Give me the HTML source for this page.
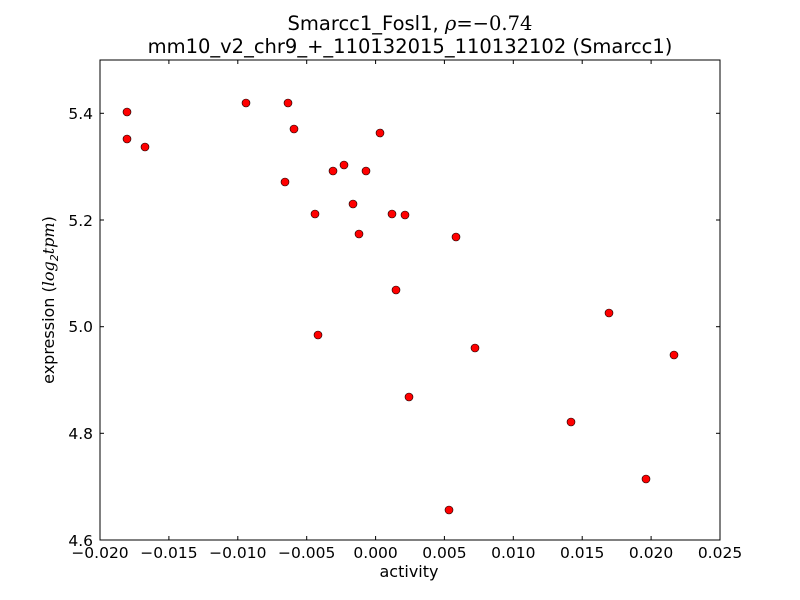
<!DOCTYPE html>
<html><head><meta charset="utf-8"><style>body{margin:0;background:#fff}svg{display:block}</style></head>
<body>
<svg width="800" height="600" xmlns="http://www.w3.org/2000/svg" font-family="'DejaVu Sans','Liberation Sans',sans-serif">
<rect width="800" height="600" fill="#fff"/>
<g fill="#ff0000" stroke="#000" stroke-width="0.6">
<circle cx="127" cy="112" r="4"/><circle cx="127" cy="139" r="4"/><circle cx="145" cy="147" r="4"/>
<circle cx="246" cy="103" r="4"/><circle cx="288" cy="103" r="4"/><circle cx="294" cy="129" r="4"/>
<circle cx="285" cy="182" r="4"/><circle cx="315" cy="214" r="4"/><circle cx="333" cy="171" r="4"/>
<circle cx="344" cy="165" r="4"/><circle cx="366" cy="171" r="4"/><circle cx="353" cy="204" r="4"/>
<circle cx="359" cy="234" r="4"/><circle cx="380" cy="133" r="4"/><circle cx="392" cy="214" r="4"/>
<circle cx="405" cy="215" r="4"/><circle cx="396" cy="290" r="4"/><circle cx="318" cy="335" r="4"/>
<circle cx="456" cy="237" r="4"/><circle cx="475" cy="348" r="4"/><circle cx="409" cy="397" r="4"/>
<circle cx="449" cy="510" r="4"/><circle cx="571" cy="422" r="4"/><circle cx="609" cy="313" r="4"/>
<circle cx="646" cy="479" r="4"/><circle cx="674" cy="355" r="4"/>
</g>
<rect x="100" y="60" width="620" height="480" fill="none" stroke="#000" stroke-width="1"/>
<g stroke="#000" stroke-width="1">
<line x1="168.9" y1="540" x2="168.9" y2="536"/><line x1="168.9" y1="60" x2="168.9" y2="64"/>
<line x1="237.8" y1="540" x2="237.8" y2="536"/><line x1="237.8" y1="60" x2="237.8" y2="64"/>
<line x1="306.7" y1="540" x2="306.7" y2="536"/><line x1="306.7" y1="60" x2="306.7" y2="64"/>
<line x1="375.6" y1="540" x2="375.6" y2="536"/><line x1="375.6" y1="60" x2="375.6" y2="64"/>
<line x1="444.4" y1="540" x2="444.4" y2="536"/><line x1="444.4" y1="60" x2="444.4" y2="64"/>
<line x1="513.3" y1="540" x2="513.3" y2="536"/><line x1="513.3" y1="60" x2="513.3" y2="64"/>
<line x1="582.2" y1="540" x2="582.2" y2="536"/><line x1="582.2" y1="60" x2="582.2" y2="64"/>
<line x1="651.1" y1="540" x2="651.1" y2="536"/><line x1="651.1" y1="60" x2="651.1" y2="64"/>
<line x1="100" y1="113.3" x2="104" y2="113.3"/><line x1="720" y1="113.3" x2="716" y2="113.3"/>
<line x1="100" y1="220" x2="104" y2="220"/><line x1="720" y1="220" x2="716" y2="220"/>
<line x1="100" y1="326.7" x2="104" y2="326.7"/><line x1="720" y1="326.7" x2="716" y2="326.7"/>
<line x1="100" y1="433.3" x2="104" y2="433.3"/><line x1="720" y1="433.3" x2="716" y2="433.3"/>
</g>
<g font-size="15.5" text-anchor="middle" fill="#000">
<text x="100" y="558">−0.020</text><text x="168.9" y="558">−0.015</text><text x="237.8" y="558">−0.010</text>
<text x="306.7" y="558">−0.005</text><text x="375.6" y="558">0.000</text><text x="444.4" y="558">0.005</text>
<text x="513.3" y="558">0.010</text><text x="582.2" y="558">0.015</text><text x="651.1" y="558">0.020</text>
<text x="720" y="558">0.025</text>
</g>
<g font-size="15.5" text-anchor="end" fill="#000">
<text x="93" y="119">5.4</text><text x="93" y="226">5.2</text><text x="93" y="332">5.0</text>
<text x="93" y="439">4.8</text><text x="93" y="546">4.6</text>
</g>
<text x="409" y="577" font-size="16" text-anchor="middle">activity</text>
<text transform="translate(54,300) rotate(-90)" font-size="16" text-anchor="middle">expression (<tspan font-style="italic" font-family="'DejaVu Serif',serif">log</tspan><tspan font-size="11" dy="4" font-style="italic">2</tspan><tspan dy="-4" font-style="italic" font-family="'DejaVu Serif',serif">tpm</tspan>)</text>
<text x="410" y="30" font-size="19.5" text-anchor="middle">Smarcc1_Fosl1, <tspan font-style="italic" font-family="'DejaVu Serif',serif">ρ</tspan><tspan font-family="'DejaVu Serif',serif">=−0.74</tspan></text>
<text x="410" y="53" font-size="19.5" text-anchor="middle">mm10_v2_chr9_+_110132015_110132102 (Smarcc1)</text>
</svg>
</body></html>
